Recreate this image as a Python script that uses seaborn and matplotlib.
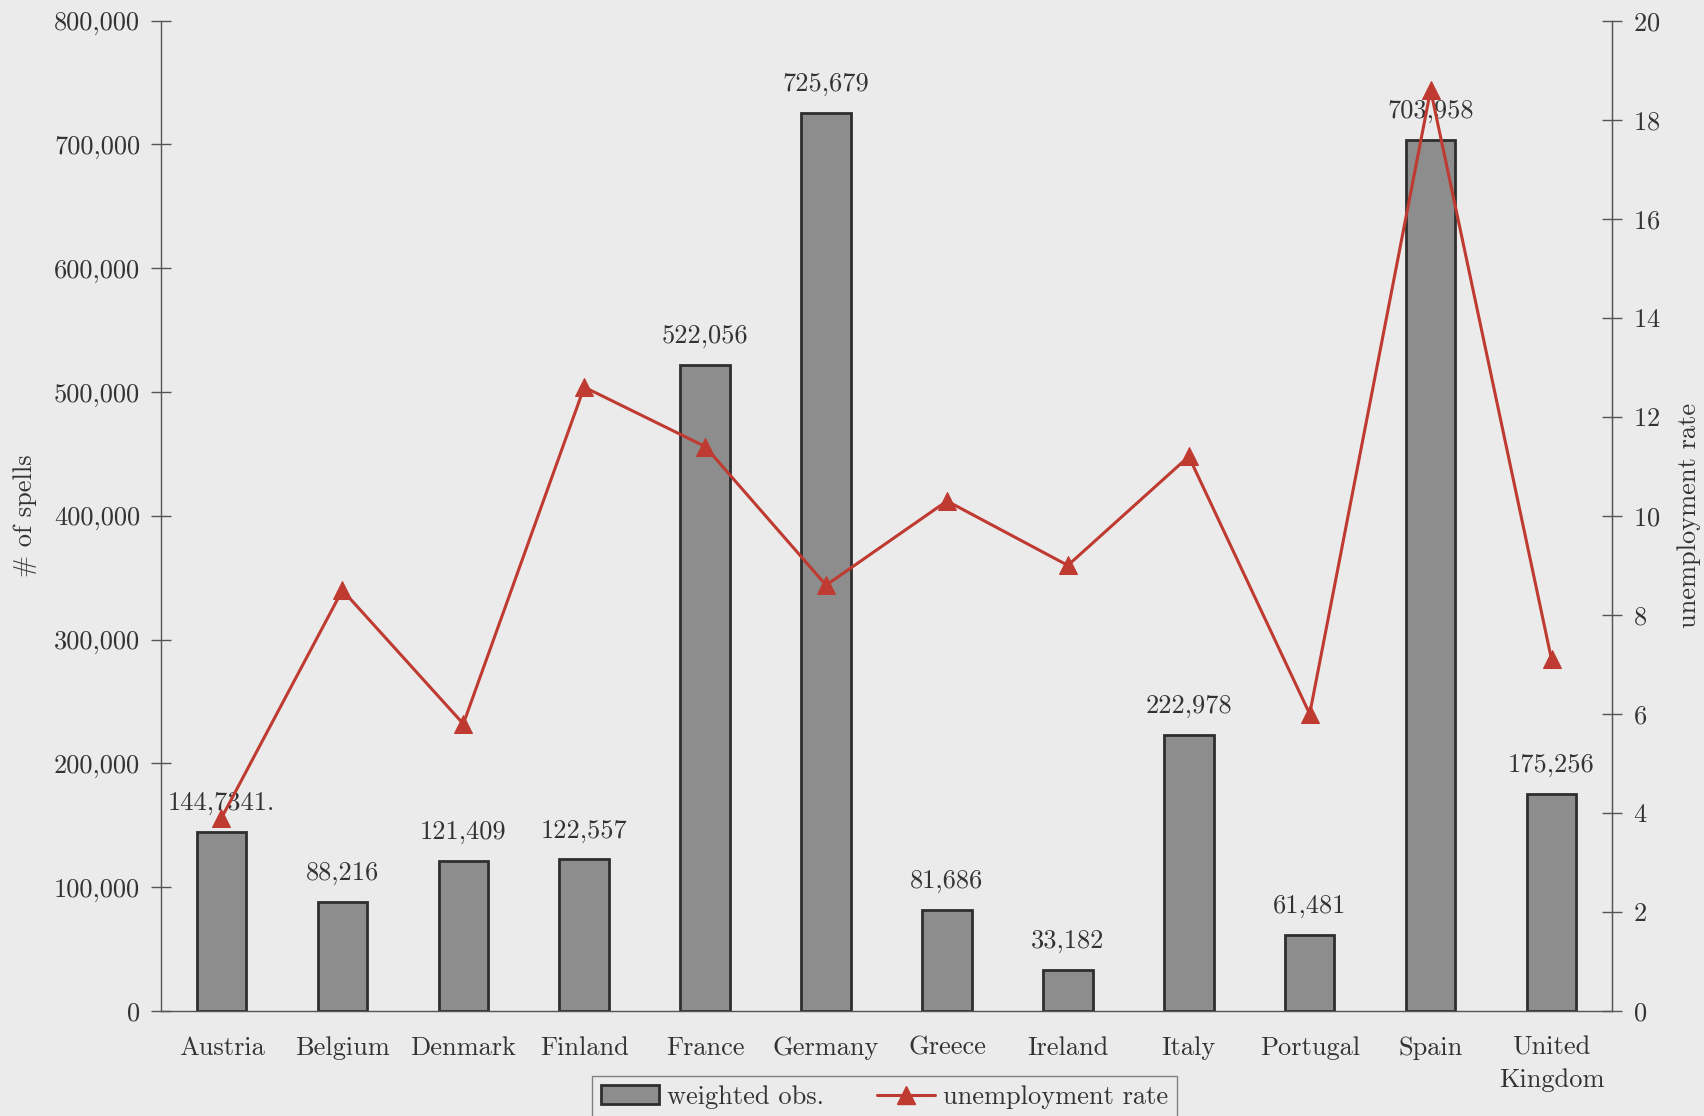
import numpy as np
import pandas as pd
import matplotlib
matplotlib.use("Agg")
import matplotlib.pyplot as plt
import matplotlib.patches as mpatches
import matplotlib.lines as mlines
from matplotlib.ticker import FuncFormatter, FixedLocator
import seaborn as sns

countries = ["Austria", "Belgium", "Denmark", "Finland", "France", "Germany",
             "Greece", "Ireland", "Italy", "Portugal", "Spain", "United\nKingdom"]
weighted_obs = [144734, 88216, 121409, 122557, 522056, 725679,
                81686, 33182, 222978, 61481, 703958, 175256]
obs_labels = ["144,7341.", "88,216", "121,409", "122,557", "522,056", "725,679",
              "81,686", "33,182", "222,978", "61,481", "703,958", "175,256"]
unemployment = [3.9, 8.5, 5.8, 12.6, 11.4, 8.6, 10.3, 9.0, 11.2, 6.0, 18.6, 7.1]

BG = "#ebebeb"
INK = "#333333"
BAR = "#8d8d8d"
BAR_EDGE = "#2e2e2e"
RED = "#bf3a30"

sns.set_style("white")
plt.rcParams["font.family"] = ["cmr10", "DejaVu Serif"]
plt.rcParams["axes.formatter.use_mathtext"] = True
plt.rcParams["font.size"] = 19
plt.rcParams["text.color"] = INK
plt.rcParams["axes.labelcolor"] = INK
plt.rcParams["xtick.color"] = "#555555"
plt.rcParams["ytick.color"] = "#555555"
plt.rcParams["xtick.labelcolor"] = INK
plt.rcParams["ytick.labelcolor"] = INK

df = pd.DataFrame({"country": countries, "obs": weighted_obs,
                   "pos": np.arange(len(countries)), "rate": unemployment})

fig = plt.figure(figsize=(17.04, 11.16), dpi=100, facecolor=BG)
ax = fig.add_axes([0.0945, 0.094, 0.946 - 0.0945, 0.9815 - 0.094])
ax.set_facecolor(BG)

sns.barplot(data=df, x="pos", y="obs", ax=ax, color=BAR, saturation=1,
            edgecolor=BAR_EDGE, linewidth=2.0, width=0.41, native_scale=True)

for xi, yi, lab in zip(df["pos"], weighted_obs, obs_labels):
    ax.annotate(lab, (xi, yi), xytext=(0, 12), textcoords="offset points",
                ha="center", va="bottom", fontsize=19)

ax.set_xlim(-0.5, len(countries) - 0.5)
ax.set_ylim(0, 800000)
ax.set_yticks(np.arange(0, 800001, 100000))
ax.yaxis.set_major_formatter(FuncFormatter(lambda v, p: f"{int(v):,}"))
ax.set_xticks(np.arange(len(countries)))
ax.set_xticklabels(countries, linespacing=1.45)
ax.xaxis.set_minor_locator(FixedLocator(np.arange(0.5, len(countries) - 0.5, 1)))
ax.tick_params(axis="x", which="major", length=0, pad=18)
ax.tick_params(axis="x", which="minor", direction="inout", length=14, width=1.0)
ax.tick_params(axis="y", direction="inout", length=14, width=1.0, pad=8)
ax.set_xlabel("")
ax.set_ylabel("# of spells", labelpad=12)

for side in ["left", "right", "bottom"]:
    ax.spines[side].set_color("#555555")
    ax.spines[side].set_linewidth(1.0)
ax.spines["top"].set_visible(False)

ax2 = ax.twinx()
sns.lineplot(data=df, x="pos", y="rate", ax=ax2, color=RED, linewidth=2.2,
             marker="^", markersize=13, markeredgecolor=RED, sort=False)
ax2.set_ylim(0, 20)
ax2.set_yticks(np.arange(0, 21, 2))
ax2.tick_params(axis="y", direction="inout", length=14, width=1.0, pad=8)
ax2.set_ylabel("unemployment rate", labelpad=12)
ax2.set_xlabel("")
ax2.spines["top"].set_visible(False)
ax2.spines["left"].set_visible(False)
ax2.spines["bottom"].set_visible(False)
ax2.spines["right"].set_color("#555555")
ax2.set_xlim(-0.5, len(countries) - 0.5)

bar_handle = mpatches.Patch(facecolor=BAR, edgecolor=BAR_EDGE, linewidth=2.0)
line_handle = mlines.Line2D([], [], color=RED, linewidth=2.2, marker="^",
                            markersize=13)
leg = fig.legend([bar_handle, line_handle], ["weighted obs.", "unemployment rate"],
                 loc="upper center", bbox_to_anchor=(0.519, 0.036), ncol=2,
                 frameon=True, fancybox=False, facecolor=BG, edgecolor="#666666",
                 fontsize=19, handlelength=2.2, handletextpad=0.3,
                 columnspacing=2.0, borderpad=0.35, borderaxespad=0)
leg.get_frame().set_linewidth(1.0)

fig.savefig("out.png", dpi=100, facecolor=BG)
